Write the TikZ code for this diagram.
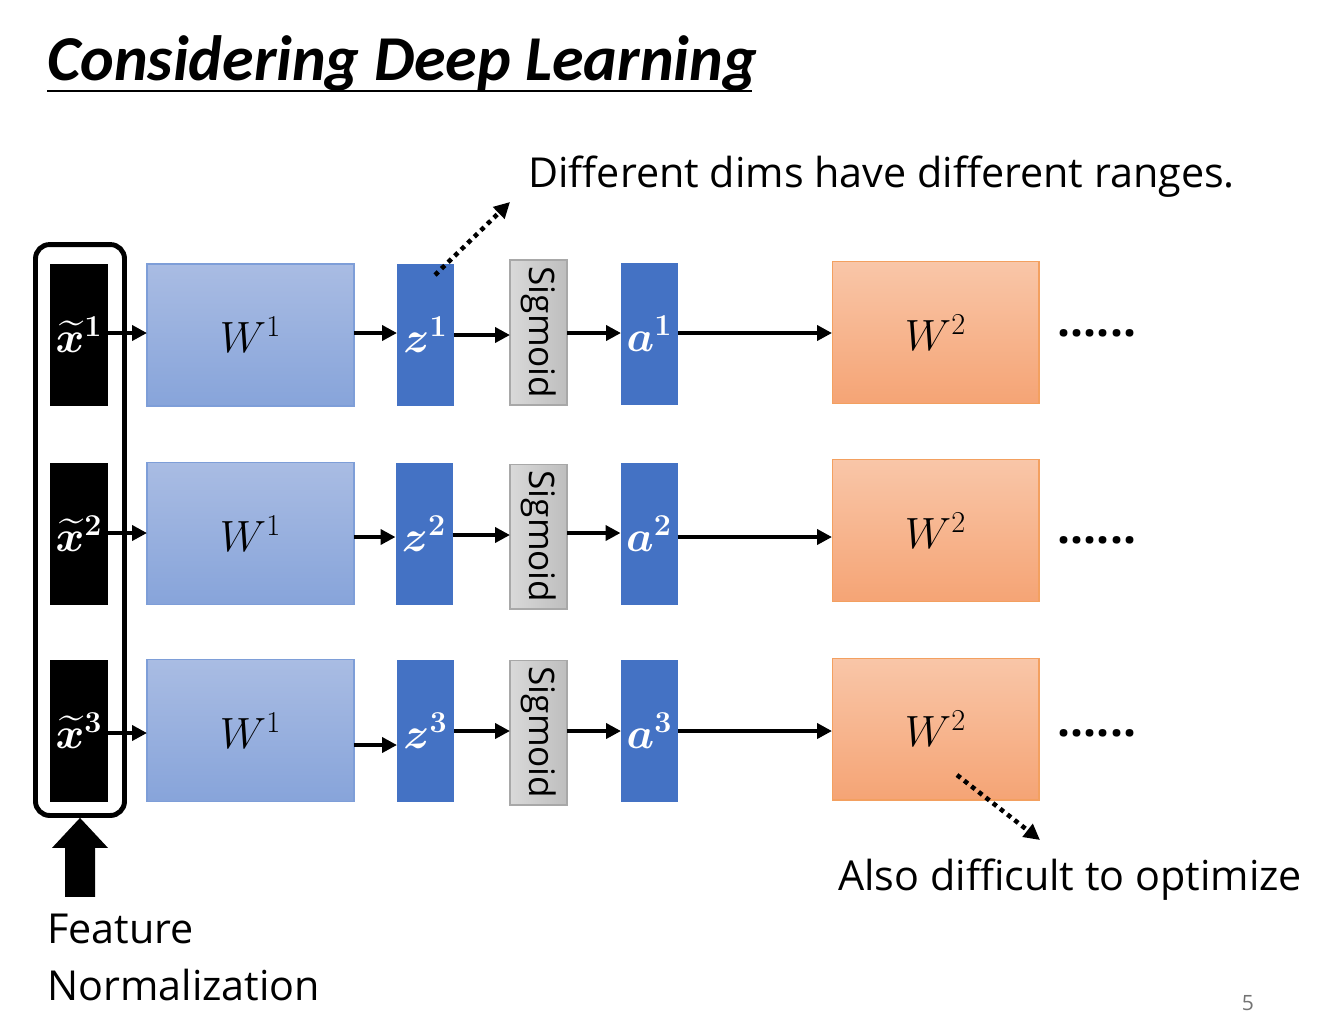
\documentclass[tikz,border=0pt]{standalone}
\usepackage{amsmath}
\usepackage[no-math]{fontspec}
\setmainfont{Open Sans}
\newfontfamily\titlefont{Carlito}
\usetikzlibrary{arrows.meta}
\definecolor{zblue}{HTML}{4472C4}
\definecolor{wonetop}{HTML}{A9BCE3}
\definecolor{wonebot}{HTML}{87A4DA}
\definecolor{wonebd}{HTML}{7E9ED8}
\definecolor{sigtop}{HTML}{D9D9D9}
\definecolor{sigbot}{HTML}{BEBEBE}
\definecolor{sigbd}{HTML}{A8A8A8}
\definecolor{wtwotop}{HTML}{F9C6A8}
\definecolor{wtwobot}{HTML}{F5A475}
\definecolor{wtwobd}{HTML}{F3A060}
\newcommand\lblfont{\fontsize{27}{31}\selectfont}
\newcommand\bodyfont{\fontsize{23.5}{28}\selectfont}
\newcommand\sigfont{\fontsize{20}{24}\selectfont}
\begin{document}
\begin{tikzpicture}[x=0.02cm,y=-0.02cm,
  cell/.style={inner sep=0pt, outer sep=0pt, minimum height=2.84cm},
  xbox/.style={cell, fill=black, minimum width=1.16cm, text=white, font=\lblfont},
  wone/.style={cell, draw=wonebd, line width=0.6pt, top color=wonetop, bottom color=wonebot, minimum width=4.14cm, font=\lblfont},
  zbox/.style={cell, fill=zblue, minimum width=1.14cm, text=white, font=\lblfont},
  sigbox/.style={inner sep=0pt, outer sep=0pt, rotate=-90, draw=sigbd, line width=0.6pt, left color=sigtop, right color=sigbot, minimum width=2.9cm, minimum height=1.14cm, font=\sigfont},
  wtwo/.style={cell, draw=wtwobd, line width=0.6pt, top color=wtwotop, bottom color=wtwobot, minimum width=4.14cm, font=\lblfont},
  arr/.style={line width=2.2pt, -{Triangle[length=8.5pt,width=8.5pt]}},
  dotarr/.style={line width=2.6pt, dash pattern=on 2.6pt off 2.6pt, -{Triangle[length=9pt,width=9pt]}},
  dots/.style={font=\fontsize{26}{30}\selectfont\bfseries, anchor=base, inner sep=0pt},
  txt/.style={font=\bodyfont, inner sep=0pt}
]
\useasboundingbox (0,0) rectangle (1338,1029);

% title
\node[anchor=base west, inner sep=0pt, font=\titlefont\bfseries\itshape\fontsize{36.4}{42}\selectfont] (title) at (47,80) {Considering Deep Learning};
\draw[line width=1pt] (title.base west |- 0,91) -- (752,91);

% group box
\node[draw, line width=2.8pt, rounded corners=8pt, minimum width=1.78cm, minimum height=11.42cm, inner sep=0pt] (grp) at (80,530) {};

% row 1
\node[xbox] (x1) at (79,335) {$\boldsymbol{\widetilde{x}^{1}}$};
\node[wone] (wa1) at (250.5,335) {$W^{1}$};
\node[zbox] (z1) at (425.5,335) {$\boldsymbol{z^{1}}$};
\node[sigbox] (s1) at (538.5,332.5) {Sigmoid};
\node[zbox] (a1) at (649.5,334) {$\boldsymbol{a^{1}}$};
\node[wtwo] (wb1) at (935.5,332.5) {$W^{2}$};
\node[dots] (d1) at (1097,336) {......};

% row 2
\node[xbox] (x2) at (79,533.5) {$\boldsymbol{\widetilde{x}^{2}}$};
\node[wone] (wa2) at (250.5,533.5) {$W^{1}$};
\node[zbox] (z2) at (424,533.5) {$\boldsymbol{z^{2}}$};
\node[sigbox] (s2) at (538.5,536.5) {Sigmoid};
\node[zbox] (a2) at (649,533.5) {$\boldsymbol{a^{2}}$};
\node[wtwo] (wb2) at (935.5,530.5) {$W^{2}$};
\node[dots] (d2) at (1097,543) {......};

% row 3
\node[xbox] (x3) at (79,730.5) {$\boldsymbol{\widetilde{x}^{3}}$};
\node[wone] (wa3) at (250.5,730.5) {$W^{1}$};
\node[zbox] (z3) at (425.5,730.5) {$\boldsymbol{z^{3}}$};
\node[sigbox] (s3) at (538.5,732.5) {Sigmoid};
\node[zbox] (a3) at (649.5,730.5) {$\boldsymbol{a^{3}}$};
\node[wtwo] (wb3) at (935.5,729) {$W^{2}$};
\node[dots] (d3) at (1097,736) {......};

% arrows row 1
\draw[arr] (x1.east |- 0,333) -- (wa1.west |- 0,333);
\draw[arr] (wa1.east |- 0,333) -- (z1.west |- 0,333);
\draw[arr] (z1.east |- 0,335) -- (s1.south |- 0,335);
\draw[arr] (s1.north |- 0,333) -- (a1.west |- 0,333);
\draw[arr] (a1.east |- 0,333) -- (wb1.west |- 0,333);
% arrows row 2
\draw[arr] (x2.east |- 0,533) -- (wa2.west |- 0,533);
\draw[arr] (wa2.east |- 0,537) -- (z2.west |- 0,537);
\draw[arr] (z2.east |- 0,535) -- (s2.south |- 0,535);
\draw[arr] (s2.north |- 0,533) -- (a2.west |- 0,533);
\draw[arr] (a2.east |- 0,537) -- (wb2.west |- 0,537);
% arrows row 3
\draw[arr] (x3.east |- 0,733) -- (wa3.west |- 0,733);
\draw[arr] (wa3.east |- 0,745) -- (z3.west |- 0,745);
\draw[arr] (z3.east |- 0,731) -- (s3.south |- 0,731);
\draw[arr] (s3.north |- 0,731) -- (a3.west |- 0,731);
\draw[arr] (a3.east |- 0,731) -- (wb3.west |- 0,731);

% annotations
\node[txt, anchor=base west] (t1) at (528,187) {Different dims have different ranges.};
\node[txt, anchor=base west] (t2) at (838,890) {Also difficult to optimize};
\coordinate (p1) at (435,275);
\coordinate (p2) at (510,202);
\draw[dotarr] (p1) -- (p2);
\coordinate (q1) at (957,775);
\coordinate (q2) at (1040,840);
\draw[dotarr] (q1) -- (q2);

% feature normalization
\fill (grp.south) -- ++(28,30) -- ++(-13,0) -- ++(0,49) -- ++(-30,0) -- ++(0,-49) -- ++(-13,0) -- cycle;
\node[txt, anchor=base west] (f1) at (47,943) {Feature};
\node[txt, anchor=base west] (f2) at (47,1000) {Normalization};

\node[font=\fontsize{12}{14}\selectfont, text=black!55, inner sep=0pt] (pg) at (1248,1003) {5};
\end{tikzpicture}
\end{document}
